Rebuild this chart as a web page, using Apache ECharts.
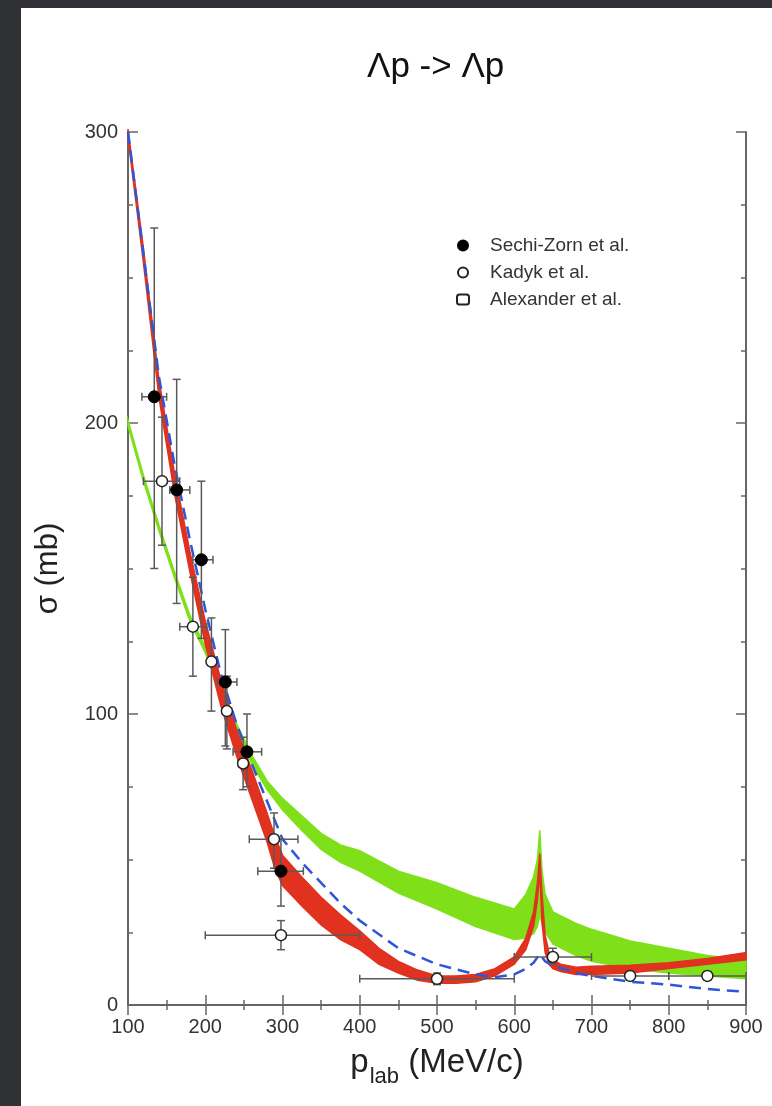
<!DOCTYPE html>
<html>
<head>
<meta charset="utf-8">
<title>Lambda p cross section</title>
<script src="https://cdn.jsdelivr.net/npm/echarts@6/dist/echarts.min.js"></script>
<style>
  html, body { margin: 0; padding: 0; background: #2f3134; }
  #panel { position: absolute; left: 21px; top: 8px; width: 751px; height: 1098px; background: #fff; }
  #chart { position: absolute; left: 0; top: 0; width: 772px; height: 1106px; }
</style>
</head>
<body>
<div id="panel"></div>
<div id="chart"></div>
<script>
// red band (lower / upper edge)
const redX    = [100, 120, 140, 160, 180, 200, 220, 240, 260, 280, 290, 300, 325, 350, 375, 400, 425, 450, 475, 500, 525, 550, 575, 600, 615, 625, 630, 633, 636, 640, 645, 650, 660, 680, 700, 750, 800, 850, 900];
const redLow  = [298, 255, 209, 176, 149, 124, 103, 86, 71, 56, 47, 41, 34, 27.5, 22.5, 19, 14, 11, 8.5, 7.5, 7.5, 8, 10, 14, 19, 27, 36, 46, 28, 18, 14, 12.5, 11.5, 10.5, 10.5, 11, 12.5, 14, 15.5];
const redHigh = [301, 260, 215, 183, 156, 132, 112, 95, 81, 66, 58, 51.5, 44, 37, 31, 25.5, 19.5, 15, 12, 10, 10, 10.5, 12.5, 16.5, 23, 32, 42, 52, 38, 24, 18, 15.5, 14, 13, 13.3, 13.7, 14.5, 16, 18];

// green band
const greenX    = [100, 120, 140, 160, 180, 200, 220, 240, 260, 280, 300, 325, 350, 375, 400, 450, 500, 550, 600, 615, 625, 630, 633, 636, 640, 650, 680, 700, 750, 800, 850, 900];
const greenLow  = [199, 180, 163, 147, 132, 121, 108, 95, 83, 74, 67, 60, 53.5, 49, 46, 38.5, 33, 27, 22.5, 23, 24.5, 27, 31, 28, 25, 21, 17, 15, 12.5, 11, 10, 9];
const greenHigh = [201, 182, 165, 149, 134, 123, 110, 97, 86, 77, 71, 65, 59, 55, 53, 46, 42, 37, 33, 38, 44, 50, 60, 46, 38, 32, 28, 26, 22, 19.5, 17, 15.5];

// blue dashed curve
const blueX = [100, 120, 140, 160, 180, 200, 220, 240, 260, 280, 300, 325, 350, 375, 400, 450, 500, 550, 575, 600, 615, 625, 633, 640, 650, 680, 700, 750, 800, 850, 900];
const blueY = [300, 258, 216, 186, 160, 136, 114, 97, 83, 70, 57, 49, 42, 35, 29, 19.5, 14, 10.5, 9.5, 10.5, 12.5, 14.5, 17.5, 15, 13.5, 11, 10, 8, 7, 5.5, 4.5];

// data points [p, sigma] and errors [pLo, pHi, sigmaLo, sigmaHi]
const sechiZorn    = [[134, 209], [163, 177], [195, 153], [226, 111], [254, 87], [298, 46]];
const sechiZornErr = [[118, 150, 150, 267], [154, 180, 138, 215], [184, 210, 126, 180], [216, 241, 89, 129], [236, 273, 75, 100], [268, 327, 34, 57]];
const kadyk    = [[298, 24], [500, 9], [650, 16.5], [750, 10], [850, 10]];
const kadykErr = [[200, 400, 19, 29], [400, 600, 7, 11], [600, 700, 14, 19.5], [700, 800, 8.5, 11.5], [800, 900, 8.5, 11.5]];
const alexander    = [[144, 180], [184, 130], [208, 118], [228, 101], [249, 83], [289, 57]];
const alexanderErr = [[120, 167, 158, 202], [167, 202, 113, 147], [203, 213, 101, 133], [222, 234, 88, 113], [243, 255, 74, 92], [257, 320, 47, 66]];

const xTicks = [100, 200, 300, 400, 500, 600, 700, 800, 900];
const yTicks = [0, 100, 200, 300];

const FONT = 'Liberation Sans';

function band(xs, lo, hi, color, z) {
  return {
    type: 'custom',
    silent: true,
    z: z,
    data: xs.map((x, i) => [x, lo[i], hi[i]]),
    encode: { x: 0, y: [1, 2] },
    renderItem: function (params, api) {
      if (params.dataIndex !== 0) return null;
      const pts = [];
      for (let i = 0; i < xs.length; i++) pts.push(api.coord([xs[i], hi[i]]));
      for (let i = xs.length - 1; i >= 0; i--) pts.push(api.coord([xs[i], lo[i]]));
      return {
        type: 'polygon',
        shape: { points: pts },
        style: { fill: color, stroke: color, lineWidth: 1.5 }
      };
    }
  };
}

function errBars(points, errs) {
  return {
    type: 'custom',
    silent: true,
    z: 5,
    data: points.map((p, i) => p.concat(errs[i])),
    encode: { x: 0, y: 1 },
    renderItem: function (params, api) {
      const y = api.value(1);
      const c = api.coord([api.value(0), y]);
      const l = api.coord([api.value(2), y]);
      const r = api.coord([api.value(3), y]);
      const b = api.coord([api.value(0), api.value(4)]);
      const t = api.coord([api.value(0), api.value(5)]);
      const cap = 4;
      const st = { stroke: '#5a5a5a', lineWidth: 1.5 };
      const seg = (x1, y1, x2, y2) => ({ type: 'line', shape: { x1, y1, x2, y2 }, style: st });
      return {
        type: 'group',
        children: [
          seg(l[0], c[1], r[0], c[1]),
          seg(l[0], c[1] - cap, l[0], c[1] + cap),
          seg(r[0], c[1] - cap, r[0], c[1] + cap),
          seg(c[0], b[1], c[0], t[1]),
          seg(c[0] - cap, b[1], c[0] + cap, b[1]),
          seg(c[0] - cap, t[1], c[0] + cap, t[1])
        ]
      };
    }
  };
}

function xAxisDef(pos, showLabel) {
  return {
    type: 'value', position: pos, min: xTicks[0], max: xTicks[xTicks.length - 1], interval: 100,
    axisLine: { lineStyle: { color: '#666', width: 2 } },
    axisTick: { inside: true, length: 10, lineStyle: { color: '#666', width: 1.5 } },
    minorTick: { show: true, splitNumber: 2, length: 5, lineStyle: { color: '#666', width: 1.5 } },
    splitLine: { show: false },
    axisLabel: { show: showLabel, fontSize: 20, color: '#333', fontFamily: FONT, margin: 12 }
  };
}

function yAxisDef(pos, showLabel) {
  return {
    type: 'value', position: pos, min: yTicks[0], max: yTicks[yTicks.length - 1], interval: 100,
    axisLine: { lineStyle: { color: '#666', width: 2 } },
    axisTick: { inside: true, length: 10, lineStyle: { color: '#666', width: 1.5 } },
    minorTick: { show: true, splitNumber: 4, length: 5, lineStyle: { color: '#666', width: 1.5 } },
    splitLine: { show: false },
    axisLabel: { show: showLabel, fontSize: 20, color: '#333', fontFamily: FONT, margin: 10 }
  };
}

const chart = echarts.init(document.getElementById('chart'));

const xBottom = xAxisDef('bottom', true);
xBottom.name = '{p|p}{s|lab}{n| (MeV/c)}';
xBottom.nameLocation = 'middle';
xBottom.nameGap = 40;
xBottom.nameTextStyle = {
  fontFamily: FONT, color: '#222',
  rich: {
    p: { fontSize: 33, fontFamily: FONT, color: '#222', lineHeight: 36, verticalAlign: 'top' },
    n: { fontSize: 33, fontFamily: FONT, color: '#222', lineHeight: 36, verticalAlign: 'top' },
    s: { fontSize: 22, fontFamily: FONT, color: '#222', lineHeight: 22, padding: [24, 0, 0, 1] }
  }
};

const yLeft = yAxisDef('left', true);
yLeft.name = 'σ (mb)';
yLeft.nameLocation = 'middle';
yLeft.nameGap = 64;
yLeft.nameTextStyle = { fontFamily: FONT, fontSize: 31, color: '#222' };

const option = {
  backgroundColor: 'transparent',
  animation: false,
  title: {
    text: 'Λp -> Λp',
    left: 362,
    top: 45,
    textStyle: { fontFamily: FONT, fontSize: 35, fontWeight: 'normal', color: '#111' }
  },
  legend: {
    orient: 'vertical',
    left: 451,
    top: 231,
    itemGap: 8,
    itemWidth: 12,
    itemHeight: 10,
    textStyle: { fontFamily: FONT, fontSize: 19, color: '#333', padding: [0, 0, 0, 16] },
    data: [
      { name: 'Sechi-Zorn et al.' },
      { name: 'Kadyk et al.' },
      { name: 'Alexander et al.', icon: 'roundRect' }
    ]
  },
  grid: { left: 128, right: 26, top: 132, bottom: 101 },
  xAxis: [xBottom, xAxisDef('top', false)],
  yAxis: [yLeft, yAxisDef('right', false)],
  series: [
    band(greenX, greenLow, greenHigh, '#7fe01a', 2),
    band(redX, redLow, redHigh, '#e0321f', 3),
    {
      type: 'line', silent: true, z: 4, symbol: 'none',
      data: blueX.map((x, i) => [x, blueY[i]]),
      lineStyle: { color: '#2f55d9', width: 2.5, type: [12, 7] }
    },
    errBars(sechiZorn, sechiZornErr),
    errBars(kadyk, kadykErr),
    errBars(alexander, alexanderErr),
    {
      name: 'Sechi-Zorn et al.', type: 'scatter', z: 6, data: sechiZorn,
      symbol: 'circle', symbolSize: 12,
      itemStyle: { color: '#000', borderColor: '#000', borderWidth: 1, opacity: 1 }
    },
    {
      name: 'Kadyk et al.', type: 'scatter', z: 6, data: kadyk,
      symbol: 'circle', symbolSize: 11,
      itemStyle: { color: '#fff', borderColor: '#222', borderWidth: 1.5, opacity: 1 }
    },
    {
      name: 'Alexander et al.', type: 'scatter', z: 6, data: alexander,
      symbol: 'circle', symbolSize: 11,
      itemStyle: { color: '#fff', borderColor: '#222', borderWidth: 1.5, opacity: 1 }
    }
  ]
};

chart.setOption(option);
</script>
</body>
</html>
